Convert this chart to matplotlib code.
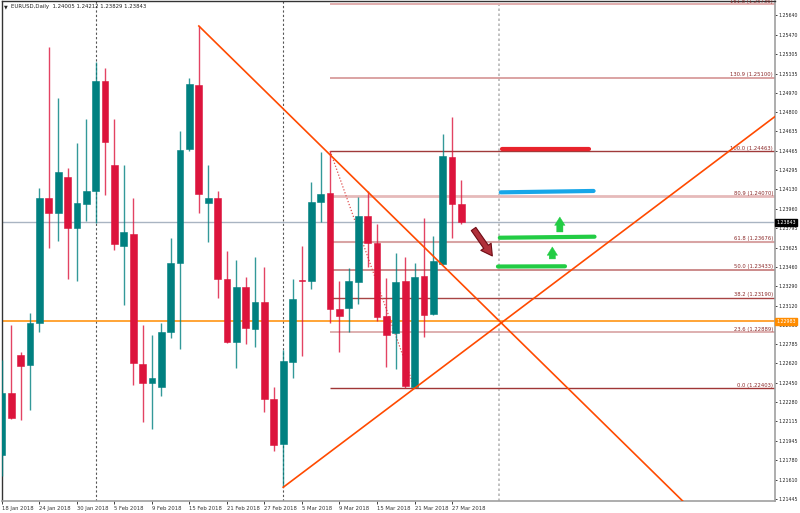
import numpy as np
import matplotlib
matplotlib.use("Agg")
import matplotlib.pyplot as plt
import matplotlib.transforms as mtransforms

# EURUSD daily candles, 18 Jan 2018 .. 28 Mar 2018
opens = [1.21824, 1.22360, 1.22692, 1.22606, 1.22967, 1.24052, 1.23922, 1.24237, 1.23797, 1.24000,
         1.24118, 1.25071, 1.24342, 1.23641, 1.23740, 1.22614, 1.22447, 1.22417, 1.22889, 1.23488,
         1.24483, 1.25036, 1.24014, 1.24052, 1.23355, 1.22808, 1.23280, 1.22918, 1.23155, 1.22313,
         1.21917, 1.22634, 1.23341, 1.23337, 1.24020, 1.24098, 1.23089, 1.23098, 1.23326, 1.23899,
         1.23667, 1.23031, 1.22881, 1.23332, 1.22417, 1.23378, 1.23046, 1.23482, 1.24411, 1.24005]
highs = [1.22649, 1.22953, 1.22721, 1.23054, 1.24139, 1.25368, 1.24920, 1.24313, 1.24530, 1.24741,
         1.25238, 1.25181, 1.24741, 1.24342, 1.24052, 1.22953, 1.22866, 1.22967, 1.23705, 1.24637,
         1.25094, 1.25548, 1.24342, 1.24116, 1.23595, 1.23517, 1.23372, 1.23546, 1.23459, 1.22412,
         1.22736, 1.23349, 1.23638, 1.24197, 1.24452, 1.24463, 1.23335, 1.23450, 1.24061, 1.24118,
         1.23829, 1.23358, 1.23575, 1.23540, 1.23488, 1.23879, 1.23725, 1.24611, 1.24761, 1.24212]
lows = [1.21642, 1.22140, 1.22128, 1.22215, 1.22889, 1.23624, 1.23684, 1.23355, 1.23337, 1.23855,
        1.23835, 1.24078, 1.23604, 1.23126, 1.22432, 1.22113, 1.22047, 1.22339, 1.22837, 1.22742,
        1.24466, 1.23922, 1.23676, 1.23190, 1.22794, 1.22582, 1.22788, 1.22764, 1.22200, 1.21859,
        1.21544, 1.22495, 1.22684, 1.23268, 1.23844, 1.22973, 1.22716, 1.22892, 1.23132, 1.23459,
        1.22987, 1.22591, 1.22568, 1.22403, 1.22403, 1.22846, 1.23040, 1.23480, 1.23705, 1.23829]
closes = [1.22360, 1.22143, 1.22599, 1.22967, 1.24052, 1.23927, 1.24278, 1.23797, 1.24012, 1.24113,
          1.25071, 1.24541, 1.23653, 1.23757, 1.22620, 1.22452, 1.22495, 1.22889, 1.23488, 1.24472,
          1.25045, 1.24092, 1.24052, 1.23355, 1.22808, 1.23280, 1.22924, 1.23155, 1.22313, 1.21908,
          1.22640, 1.23178, 1.23338, 1.24020, 1.24090, 1.23089, 1.23033, 1.23335, 1.23899, 1.23662,
          1.23025, 1.22868, 1.23326, 1.22423, 1.23369, 1.23040, 1.23511, 1.24420, 1.24003, 1.23843]

date_labels = ["18 Jan 2018", "24 Jan 2018", "30 Jan 2018", "5 Feb 2018", "9 Feb 2018",
               "15 Feb 2018", "21 Feb 2018", "27 Feb 2018", "5 Mar 2018", "9 Mar 2018",
               "15 Mar 2018", "21 Mar 2018", "27 Mar 2018"]
date_pos = [0, 4, 8, 12, 16, 20, 24, 28, 32, 36, 40, 44, 48]

price_ticks = [1.25640, 1.25470, 1.25305, 1.25135, 1.24970, 1.24800, 1.24635, 1.24465, 1.24295,
               1.24130, 1.23960, 1.23795, 1.23625, 1.23460, 1.23290, 1.23120, 1.22955, 1.22785,
               1.22620, 1.22450, 1.22280, 1.22115, 1.21945, 1.21780, 1.21610, 1.21445]

# fibonacci retracement (anchored bar 35 high -> bar 44 low)
fib_levels = [161.8, 130.9, 100.0, 80.9, 61.8, 50.0, 38.2, 23.6, 0.0]
fib_prices = [1.25736, 1.25100, 1.24463, 1.24070, 1.23676, 1.23433, 1.23190, 1.22889, 1.22403]
fib_colors = ["#E2AEAE", "#D49494", "#A03A3A", "#E6BABA", "#D8A4A4", "#C47878", "#A84444", "#D8A2A2", "#A03636"]
fib_widths = [1.4, 1.2, 1.0, 2.0, 1.5, 1.2, 1.0, 1.2, 1.0]
fib_start = 35
fib_anchor = [(35, 1.24463), (44, 1.22403)]

bid_price = 1.23843
level_price = 1.22983

# trendlines
down_line = [(21, 1.25548), (53.1, 1.22983)]
up_line = [(30, 1.21544), (44, 1.22403)]

# hand drawn marks
red_mark = [(53.3, 1.24483), (62.6, 1.24483)]
blue_mark = [(53.2, 1.24104), (63.1, 1.24116)]
green_mark1 = [(53.1, 1.23710), (63.2, 1.23719)]
green_mark2 = [(52.9, 1.23460), (60.05, 1.23462)]
green_arrows = [((59.5, 1.23760), (59.5, 1.23890)), ((58.7, 1.23526), (58.7, 1.23630))]
maroon_arrow = ((50.3, 1.23786), (52.3, 1.23552))

month_seps = [10, 30]
shift_sep = 53.0

up_col = "#008080"
dn_col = "#DC143C"

fig = plt.figure(figsize=(8, 5.13), dpi=100)
ax = fig.add_axes([1.5 / 800, 1 - 500.5 / 513, 773.5 / 800, 499.5 / 513])
ax.set_xlim(-0.05, 82.45)
ax.set_ylim(1.21429, 1.25765)

# separators
for m in month_seps:
    ax.axvline(m, color="#555555", lw=0.8, ls=(0, (2, 2)), zorder=1)
ax.axvline(shift_sep, color="#B8B8B8", lw=1.2, ls=(0, (1.5, 1.5)), zorder=1)

# fib levels
for lvl, pr, c, w in zip(fib_levels, fib_prices, fib_colors, fib_widths):
    ax.plot([fib_start, 82.45], [pr, pr], color=c, lw=w, zorder=2, solid_capstyle="butt")
    ax.text(82.25, pr + 0.00004, f"{lvl:.1f} ({pr:.5f})", ha="right", va="bottom",
            fontsize=3.8, color="#8B2A2A", zorder=3)
ax.plot([p[0] for p in fib_anchor], [p[1] for p in fib_anchor], color="#E05050",
        lw=0.9, ls=(0, (1, 1.5)), zorder=2)

ax.axhline(bid_price, color="#A9B4C2", lw=1.0, zorder=2)
ax.axhline(level_price, color="#FF8C00", lw=1.1, zorder=2)

# candles
x = np.arange(len(opens))
for i in x:
    o, h, l, c = opens[i], highs[i], lows[i], closes[i]
    col = up_col if c >= o else dn_col
    ax.vlines(i, l, h, color=col, lw=1.0, alpha=0.8, zorder=4)
    lo, hi = min(o, c), max(o, c)
    ax.bar(i, max(hi - lo, 0.00009), bottom=lo, width=0.72, color=col,
           edgecolor=col, lw=0.4, zorder=5)

# trendlines, extended as rays
def ray(p0, p1, x_end):
    k = (p1[1] - p0[1]) / (p1[0] - p0[0])
    return [p0[0], x_end], [p0[1], p0[1] + k * (x_end - p0[0])]

xs, ys = ray(down_line[0], down_line[1], 85)
ax.plot(xs, ys, color="#FF4A00", lw=1.2, zorder=6)
xs, ys = ray(up_line[0], up_line[1], 85)
ax.plot(xs, ys, color="#FF4A00", lw=1.2, zorder=6)

# marks
ax.plot(*zip(*red_mark), color="#E8232C", lw=3, solid_capstyle="round", zorder=7)
ax.plot(*zip(*blue_mark), color="#17A6E8", lw=3, solid_capstyle="round", zorder=7)
ax.plot(*zip(*green_mark1), color="#22CC44", lw=3, solid_capstyle="round", zorder=7)
ax.plot(*zip(*green_mark2), color="#22CC44", lw=3, solid_capstyle="round", zorder=7)
for tail, tip in green_arrows:
    ax.annotate("", xy=tip, xytext=tail,
                arrowprops=dict(arrowstyle="simple,head_width=0.75,head_length=0.6,tail_width=0.45",
                                fc="#22CC44", ec="#22CC44", lw=0.3, shrinkA=0, shrinkB=0), zorder=7)
ax.annotate("", xy=maroon_arrow[1], xytext=maroon_arrow[0],
            arrowprops=dict(arrowstyle="simple,head_width=0.9,head_length=0.8,tail_width=0.4",
                            fc="#B0303A", ec="#6E0A14", lw=0.8, shrinkA=0, shrinkB=0), zorder=7)

# axes styling
for s in ["left", "top"]:
    ax.spines[s].set_color("#333333")
    ax.spines[s].set_linewidth(1.0)
for s in ["right", "bottom"]:
    ax.spines[s].set_color("#A0A0A0")
    ax.spines[s].set_linewidth(1.2)

ax.yaxis.tick_right()
ax.set_yticks(price_ticks)
ax.set_yticklabels([f"{t:.5f}" for t in price_ticks])
ax.tick_params(axis="y", length=1.5, width=0.6, pad=1.0, labelsize=3.4, colors="#222222")
ax.set_xticks(date_pos)
ax.set_xticklabels(date_labels, ha="left")
ax.tick_params(axis="x", length=2.5, width=0.6, pad=1.5, labelsize=3.8, colors="#222222")
ax.tick_params(axis="x", labelcolor="#333333")

# price boxes on right scale
trans = mtransforms.blended_transform_factory(ax.transAxes, ax.transData)
ax.text(1.002, bid_price, f"{bid_price:.5f}", transform=trans, fontsize=3.4, color="white",
        va="center", ha="left", zorder=10, clip_on=False,
        bbox=dict(boxstyle="square,pad=0.25", fc="black", ec="black"))
ax.text(1.002, level_price, f"{level_price:.5f}", transform=trans, fontsize=3.4, color="white",
        va="center", ha="left", zorder=10, clip_on=False,
        bbox=dict(boxstyle="square,pad=0.25", fc="#FF8C00", ec="#FF8C00"))

# header
fig.text(4 / 800, 1 - 7 / 513, "\u25BC", fontsize=3.5, color="#222222", va="center")
fig.text(11 / 800, 1 - 7 / 513,
         f"EURUSD,Daily  {opens[-1]:.5f} {highs[-1]:.5f} {lows[-1]:.5f} {closes[-1]:.5f}",
         fontsize=3.9, color="#222222", va="center")

fig.savefig("out.png", dpi=100, facecolor="white")
